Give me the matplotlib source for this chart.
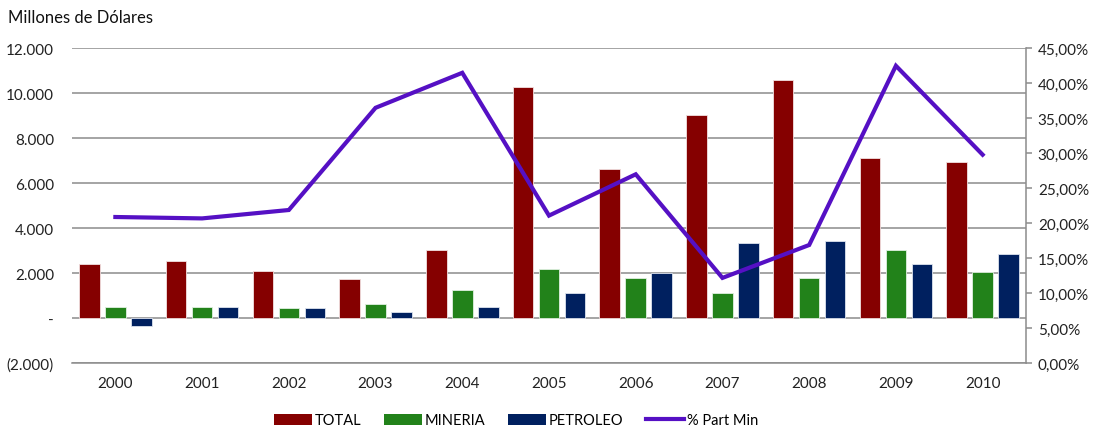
import numpy as np
import matplotlib.pyplot as plt
from matplotlib.ticker import FuncFormatter, MultipleLocator
from matplotlib.patches import Patch
from matplotlib.lines import Line2D

plt.rcParams['font.family'] = ['Lato', 'DejaVu Sans']

years = ['2000', '2001', '2002', '2003', '2004', '2005',
         '2006', '2007', '2008', '2009', '2010']
total = [2410, 2550, 2110, 1750, 3030, 10290, 6640, 9050, 10600, 7140, 6950]
mineria = [510, 500, 450, 640, 1250, 2190, 1800, 1120, 1800, 3040, 2060]
petroleo = [-350, 500, 450, 270, 500, 1120, 2000, 3360, 3420, 2410, 2860]
part_min = [20.9, 20.7, 21.9, 36.5, 41.5, 21.1, 27.0, 12.2, 16.9, 42.5, 29.8]

c_total = '#850000'
c_min = '#22821A'
c_pet = '#00205F'
c_line = '#5510C4'
grid_c = '#8C8C8C'

fig = plt.figure(figsize=(10.95, 4.35), dpi=100)
ax = fig.add_axes([72/1095, 1-364.3/435, (1026-72)/1095, (364.3-49.3)/435])

x = np.arange(len(years))
w = 0.237
step = 0.3
ax.bar(x - step, total, w, color=c_total, edgecolor='#f2e0e0', linewidth=0.6, zorder=3)
ax.bar(x, mineria, w, color=c_min, edgecolor='#e0f0e0', linewidth=0.6, zorder=3)
ax.bar(x + step, petroleo, w, color=c_pet, edgecolor='#dde3ee', linewidth=0.6, zorder=3)

ax.set_xlim(-0.5, len(years) - 0.5)
ax.set_ylim(-2000, 12000)
ax.yaxis.set_major_locator(MultipleLocator(2000))


def miles(v, pos):
    if abs(v) < 1e-9:
        return '-'
    s = f'{abs(v):,.0f}'.replace(',', '.')
    return f'({s})' if v < 0 else s


ax.yaxis.set_major_formatter(FuncFormatter(miles))
ax.grid(axis='y', color=grid_c, linewidth=1.1, zorder=0)
ax.set_axisbelow(True)
for s in ['left', 'top', 'right']:
    ax.spines[s].set_visible(False)
ax.spines['bottom'].set_color(grid_c)
ax.spines['bottom'].set_linewidth(1.1)
ax.set_xticks(x)
ax.set_xticklabels(years)
ax.tick_params(axis='x', length=0, pad=9, labelsize=11, colors='#222222')
ax.tick_params(axis='y', length=0, pad=13, labelsize=11, colors='#222222')

ax2 = ax.twinx()
ax2.plot(x, part_min, color=c_line, linewidth=3, solid_joinstyle='miter', zorder=5)
ax2.set_ylim(0, 45)
ax2.yaxis.set_major_locator(MultipleLocator(5))
ax2.yaxis.set_major_formatter(FuncFormatter(lambda v, p: f'{v:.2f}%'.replace('.', ',')))
for s in ['left', 'top', 'bottom']:
    ax2.spines[s].set_visible(False)
ax2.spines['right'].set_color(grid_c)
ax2.spines['right'].set_linewidth(1.1)
ax2.tick_params(axis='y', length=4.5, width=1.1, color=grid_c, pad=4, labelsize=11,
                labelcolor='#222222')

fig.text(8/1095, 1-18/435, 'Millones de Dólares', fontsize=12, va='center', ha='left',
         color='#111111')

handles = [Patch(facecolor=c_total), Patch(facecolor=c_min), Patch(facecolor=c_pet),
           Line2D([0], [0], color=c_line, linewidth=3)]
labels = ['TOTAL', 'MINERIA', 'PETROLEO', '% Part Min']
fig.legend(handles, labels, loc='center', bbox_to_anchor=(516/1095, 1-421.5/435), ncol=4,
           frameon=False, fontsize=10.5, handlelength=2.6, handleheight=0.85,
           handletextpad=0.15, columnspacing=1.6)

fig.savefig('out.png', dpi=100)
